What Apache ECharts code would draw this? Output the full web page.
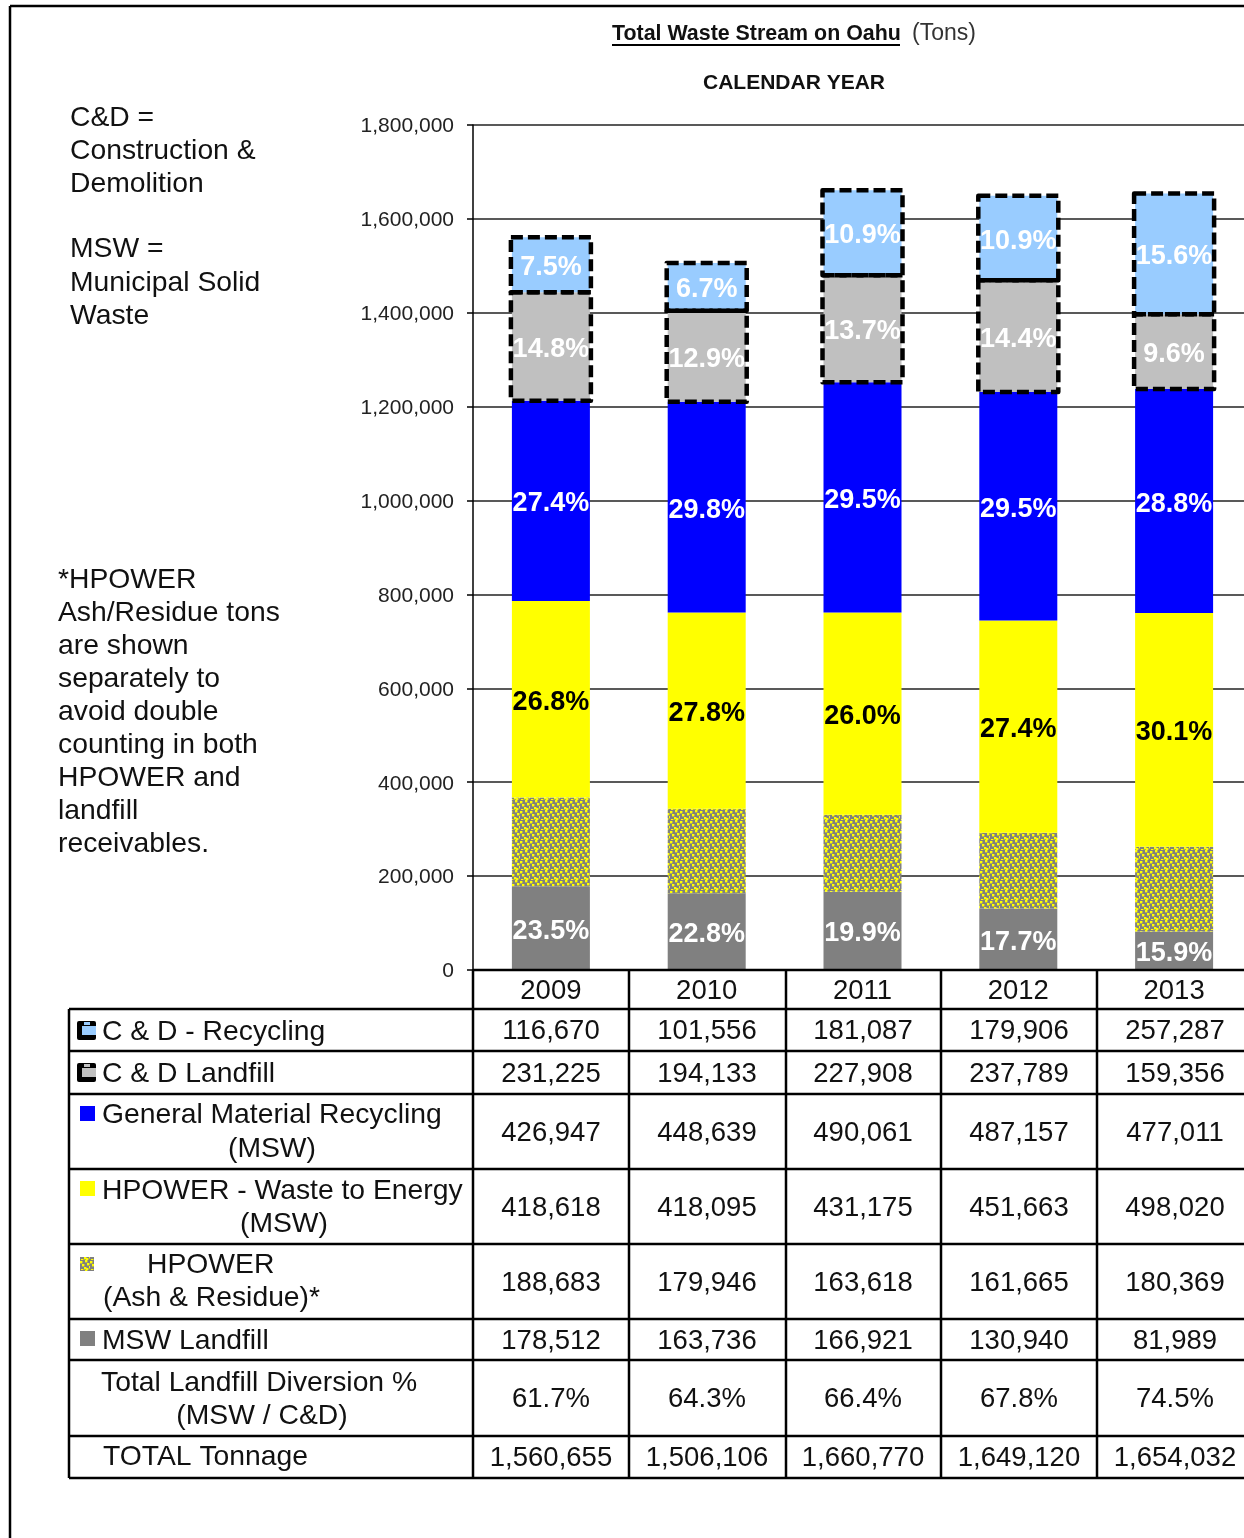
<!DOCTYPE html>
<html><head><meta charset="utf-8">
<style>html,body{margin:0;padding:0;background:#fff;overflow:hidden}#c{width:1244px;height:1538px}</style>
<script src="https://cdn.jsdelivr.net/npm/echarts@6/dist/echarts.min.js"></script>
</head><body><div id="c"></div>
<script>
const years = ['2009','2010','2011','2012','2013'];
const cdRecycling = [116670,101556,181087,179906,257287];
const cdLandfill = [231225,194133,227908,237789,159356];
const generalRecycling = [426947,448639,490061,487157,477011];
const hpowerEnergy = [418618,418095,431175,451663,498020];
const hpowerAsh = [188683,179946,163618,161665,180369];
const mswLandfill = [178512,163736,166921,130940,81989];
const diversion = ['61.7%','64.3%','66.4%','67.8%','74.5%'];
const totals = ['1,560,655','1,506,106','1,660,770','1,649,120','1,654,032'];
const pctRecycling = ['7.5%','6.7%','10.9%','10.9%','15.6%'];
const pctCdLandfill = ['14.8%','12.9%','13.7%','14.4%','9.6%'];
const pctGeneral = ['27.4%','29.8%','29.5%','29.5%','28.8%'];
const pctEnergy = ['26.8%','27.8%','26.0%','27.4%','30.1%'];
const pctMsw = ['23.5%','22.8%','19.9%','17.7%','15.9%'];

const F = '"Liberation Sans", Arial, sans-serif';
const INK = '#111';
const fmt = n => n.toLocaleString('en-US');

// dotted fill of the ash series
const pat = document.createElement('canvas'); pat.width = 10; pat.height = 10;
const g = pat.getContext('2d');
g.fillStyle = '#808080'; g.fillRect(0,0,10,10);
g.fillStyle = '#ffff00';
[[0,1],[5,0],[2,4],[7,3],[4,7],[9,6],[1,9],[6,8]].forEach(p => g.fillRect(p[0],p[1],2.4,2.4));
const ashFill = {image: pat, repeat: 'repeat'};

const lab = (arr, color) => ({show:true, position:'inside', offset:[0,3], color, fontFamily:F, fontWeight:'bold', fontSize:27,
  formatter:p => arr[p.dataIndex]});
const bar = (name, data, itemStyle, label) => ({name, type:'bar', stack:'t', data, barWidth:78, itemStyle,
  label: label || {show:false}, emphasis:{disabled:true}, silent:true});

// dashed outline around a stacked C&D segment, drawn through the value axis
const below = years.map((_,i) => mswLandfill[i]+hpowerAsh[i]+hpowerEnergy[i]+generalRecycling[i]);
const outline = (name, baseArr, valArr) => ({
  name, type:'custom', silent:true, z:3, clip:false,
  data: years.map((_,i) => [i, baseArr[i], baseArr[i]+valArr[i]]),
  encode:{x:0, y:[1,2]},
  renderItem:(params, api) => {
    const a = api.coord([api.value(0), api.value(1)]);
    const b = api.coord([api.value(0), api.value(2)]);
    return {type:'rect', shape:{x:a[0]-40, y:b[1], width:80, height:a[1]-b[1]},
      style:{fill:null, stroke:'#000', lineWidth:4.5, lineDash:[12,5], lineJoin:'round'}};
  }
});

const series = [
  bar('MSW Landfill', mswLandfill, {color:'#808080'}, lab(pctMsw,'#fff')),
  bar('HPOWER (Ash & Residue)*', hpowerAsh, {color:ashFill}),
  bar('HPOWER - Waste to Energy (MSW)', hpowerEnergy, {color:'#ffff00'}, lab(pctEnergy,'#000')),
  bar('General Material Recycling (MSW)', generalRecycling, {color:'#0000ff'}, lab(pctGeneral,'#fff')),
  bar('C & D Landfill', cdLandfill, {color:'#c0c0c0'}, lab(pctCdLandfill,'#fff')),
  bar('C & D - Recycling', cdRecycling, {color:'#99ccff'}, lab(pctRecycling,'#fff')),
  outline('C & D Landfill outline', below, cdLandfill),
  outline('C & D - Recycling outline', below.map((v,i) => v+cdLandfill[i]), cdRecycling)
];

// table geometry
const colX = [473,629,786,941,1097,1252];
const rowY = [1009,1051,1094,1169,1244,1319,1360,1436,1478];
const tableLeft = 69;
const colC = [551,707,863,1019,1175];
const rows = [
  cdRecycling.map(fmt), cdLandfill.map(fmt), generalRecycling.map(fmt), hpowerEnergy.map(fmt),
  hpowerAsh.map(fmt), mswLandfill.map(fmt), diversion, totals
];
const gr = [];
const line = (x1,y1,x2,y2,w) => gr.push({type:'line', shape:{x1,y1,x2,y2}, style:{stroke:'#000', lineWidth:w||2.5}, silent:true, z:50});
const text = (x,y,t,o) => gr.push({type:'text', x, y, silent:true, z:60,
  style:Object.assign({text:t, font:'28.3px '+F, fill:INK, textAlign:'left', textVerticalAlign:'middle'}, o||{})});

rowY.forEach(y => line(tableLeft,y,1252,y));
line(473,970,1252,970);
line(tableLeft,1009,tableLeft,1478);
colX.slice(0,5).forEach(x => line(x,970,x,1478));

rows.forEach((r,i) => r.forEach((v,j) => text(colC[j], (rowY[i]+rowY[i+1])/2 + 1.5, v, {textAlign:'center', font:'27.5px '+F})));

text(102,1032,'C & D - Recycling');
text(102,1074,'C & D Landfill');
text(102,1115,'General Material Recycling');
text(272,1149,'(MSW)',{textAlign:'center'});
text(102,1191,'HPOWER - Waste to Energy');
text(284,1224,'(MSW)',{textAlign:'center'});
text(147,1265,'HPOWER');
text(103,1298,'(Ash & Residue)*');
text(102,1341,'MSW Landfill');
text(101,1383,'Total Landfill Diversion %');
text(262,1416,'(MSW / C&D)',{textAlign:'center'});
text(103,1457,'TOTAL Tonnage');

// legend keys
const key = (x,y,w,h,fill,r) => gr.push({type:'rect', shape:{x,y,width:w,height:h,r:r||0}, silent:true, z:60, style:{fill}});
[[1021,'#99ccff'],[1063,'#c0c0c0']].forEach(k => {
  key(77,k[0],19,19,'#000',2);
  key(82,k[0]+5,14,9,k[1]);
  key(84,k[0]+1,6,3,k[1]);
});
key(80,1106,15,15,'#0000ff');
key(80,1181,15,15,'#ffff00');
gr.push({type:'rect', shape:{x:80,y:1257,width:14,height:14}, silent:true, z:60, style:{fill:ashFill}});
key(80,1331,15,15,'#808080');

// outer frame
line(10,6,1244,6,2.5);
line(10,6,10,1538,2.5);

// headings and notes
text(612,34,'Total Waste Stream on Oahu',{font:'bold 21.4px '+F});
line(612,45,900,45,2);
text(912,34,'(Tons)',{font:'23px '+F, fill:'#333'});
text(794,83,'CALENDAR YEAR',{font:'bold 21px '+F, textAlign:'center'});

[['C&D =',117],['Construction &',150],['Demolition',183],['MSW =',248],['Municipal Solid',282],['Waste',315]]
  .forEach(a => text(70,a[1]+1,a[0]));
[['*HPOWER',579],['Ash/Residue tons',612],['are shown',645],['separately to',678],['avoid double',711],
 ['counting in both',744],['HPOWER and',777],['landfill',810],['receivables.',843]]
  .forEach(a => text(58,a[1]+1,a[0]));

const chart = echarts.init(document.getElementById('c'), null, {renderer:'canvas'});
chart.setOption({
  animation:false,
  backgroundColor:'#fff',
  grid:{left:473, top:125, width:779, height:845, containLabel:false, outerBoundsMode:'none'},
  xAxis:{type:'category', data:years, axisLine:{lineStyle:{color:'#000',width:2}},
    axisTick:{show:false},
    axisLabel:{color:INK, fontFamily:F, fontSize:27.5, margin:7, interval:0}},
  yAxis:{type:'value', min:0, max:1800000, interval:200000,
    axisLine:{show:true, lineStyle:{color:'#000',width:1.5}},
    axisTick:{show:true, length:6, lineStyle:{color:'#000',width:1.5}},
    splitLine:{show:true, lineStyle:{color:'#222',width:1.5}},
    axisLabel:{color:'#222', fontFamily:F, fontSize:21, margin:19, formatter:v => '{a|'+fmt(v)+'}',
      rich:{a:{fontFamily:F, fontSize:21, color:'#222', padding:[3,0,0,0]}}}},
  series,
  graphic:{elements:gr}
});
</script></body></html>
